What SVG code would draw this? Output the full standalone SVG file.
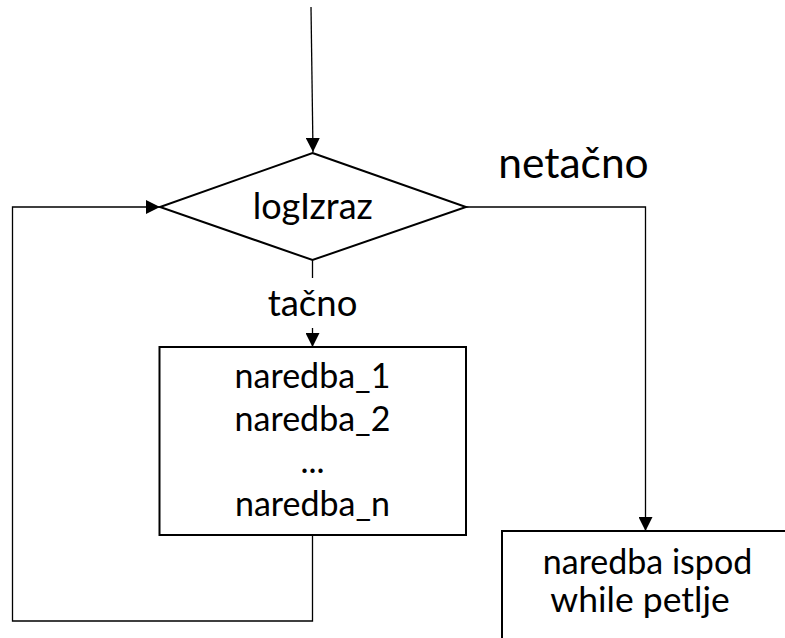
<svg xmlns="http://www.w3.org/2000/svg" width="785" height="638" viewBox="0 0 785 638">
<style>
.s{fill:#fff;stroke:#000;stroke-width:2}
.c{fill:none;stroke:#000;stroke-width:1.3}
.t{font-family:Lato,"Open Sans",sans-serif;font-size:34px;fill:#000;text-anchor:middle}
</style>
<defs>
<marker id="a" markerUnits="userSpaceOnUse" markerWidth="14" markerHeight="14" viewBox="0 0 14 14" refX="14" refY="7" orient="auto">
<path d="M0,0 L14,7 L0,14 Z" fill="#000"/>
</marker>
</defs>
<g id="connectors">
<path class="c" d="M311,7 L313,152" marker-end="url(#a)"/>
<path class="c" d="M312.5,260 L312.5,278"/>
<path class="c" d="M312.5,328 L312.5,347" marker-end="url(#a)"/>
<path class="c" d="M312.5,535 L312.5,621 L12.5,621 L12.5,207 L160,207" marker-end="url(#a)"/>
<path class="c" d="M466,207 L645.5,207 L645.5,531" marker-end="url(#a)"/>
</g>
<g id="decision">
<polygon class="s" points="312.5,153 466,207 312.5,260 160,207"/>
<text class="t" x="312.8" y="219" style="font-size:36px">logIzraz</text>
</g>
<g id="label-true"><text class="t" x="312.5" y="316" style="font-size:36.5px">tačno</text></g>
<g id="label-false"><text class="t" x="573.5" y="178" style="font-size:42.5px">netačno</text></g>
<g id="body">
<rect class="s" x="159.5" y="347" width="306.5" height="188"/>
<text class="t" x="312.5" y="388">naredba_1</text>
<text class="t" x="312.5" y="431">naredba_2</text>
<text class="t" x="312.5" y="473">...</text>
<text class="t" x="312.5" y="516">naredba_n</text>
</g>
<g id="after">
<rect class="s" x="502" y="531" width="290" height="115"/>
<text class="t" x="647.5" y="574">naredba ispod</text>
<text class="t" x="640" y="612" style="font-size:35.5px">while petlje</text>
</g>
</svg>
